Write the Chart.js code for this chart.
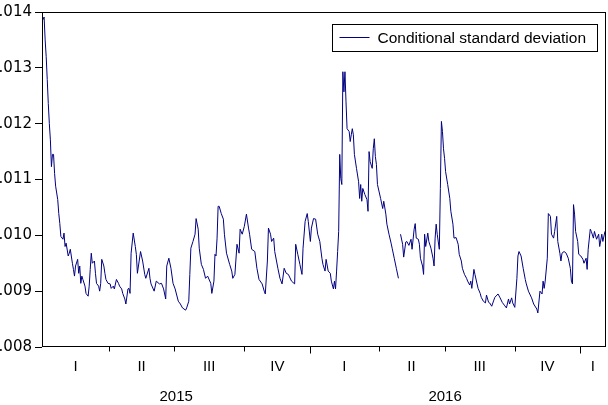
<!DOCTYPE html>
<html>
<head>
<meta charset="utf-8">
<script src="https://cdn.jsdelivr.net/npm/chart.js@4.4.1/dist/chart.umd.min.js"></script>
<style>
    html, body { margin: 0; padding: 0; background: #fff; }
    #wrap { width: 608px; height: 405px; position: relative; }
</style>
</head>
<body>
<div id="wrap"><canvas id="myChart"></canvas></div>
<script>
const obsDay = [
    0, 2, 3, 4, 5, 6, 7, 8, 9, 10, 11, 12, 13, 15, 16, 17, 18, 20, 21, 22,
    23, 25, 26, 27, 29, 30, 31, 32, 34, 35, 36, 37, 38, 39, 41, 42, 44, 45, 46, 47,
    48, 50, 51, 52, 54, 55, 56, 57, 59, 60, 61, 63, 65, 66, 68, 69, 71, 73, 74, 76,
    77, 79, 80, 82, 83, 84, 85, 87, 89, 90, 91, 94, 96, 98, 99, 102, 103, 104, 107, 109,
    112, 114, 116, 118, 119, 121, 123, 125, 127, 130, 132, 134, 137, 138, 140, 141, 142, 144, 146, 147,
    149, 150, 152, 154, 156, 158, 161, 162, 164, 165, 166, 167, 168, 169, 171, 173, 174, 176, 179, 181,
    182, 184, 186, 188, 189, 191, 193, 195, 197, 198, 200, 203, 205, 207, 210, 212, 213, 215, 216, 218,
    219, 221, 222, 225, 227, 229, 231, 233, 235, 238, 241, 242, 244, 246, 248, 249, 251, 253, 254, 256,
    257, 259, 261, 263, 265, 267, 268, 270, 271, 273, 275, 276, 278, 279, 280, 281, 282, 283, 284, 285,
    286, 287, 288, 289, 290, 291, 293, 294, 295, 296, 297, 298, 300, 302, 303, 304, 305, 306, 308, 310,
    311, 312, 313, 315, 316, 317, 318, 319, 320, 323, 325, 326, 328, 329, 331, 333, 334, 336, 338, 340,
    341, 342, 344, 345, 347, 348, 350, 352, 353, 355, 356, 357, 359, 360, 361, 363, 364, 365, 366, 368,
    369, 371, 373, 374, 375, 376, 377, 379, 380, 381, 382, 383, 384, 385, 387, 389, 390, 392, 393, 395,
    397, 398, 400, 401, 403, 405, 406, 408, 409, 410, 412, 413, 415, 416, 418, 419, 421, 423, 424, 426,
    427, 429, 431, 432, 434, 435, 437, 439, 441, 443, 445, 446, 448, 449, 451, 453, 454, 455, 457, 459,
    461, 462, 464, 467, 469, 472, 473, 475, 477, 478, 479, 480, 482, 483, 485, 486, 488, 489, 491, 492,
    494, 495, 496, 498, 500, 502, 504, 505, 506, 507, 508, 509, 511, 512, 514, 516, 517, 519, 520, 521,
    523, 524, 526, 527, 529, 531, 532, 534, 535, 537, 538
];
const condSd = [
    0.01383, 0.01391, 0.01350, 0.01320, 0.01279, 0.01236, 0.01200, 0.01171, 0.01123, 0.01145,
    0.01145, 0.01111, 0.01088, 0.01064, 0.01039, 0.01021, 0.00998, 0.00993, 0.01004, 0.00980,
    0.00986, 0.00963, 0.00968, 0.00975, 0.00950, 0.00939, 0.00927, 0.00945, 0.00957, 0.00932,
    0.00945, 0.00914, 0.00927, 0.00921, 0.00909, 0.00896, 0.00891, 0.00909, 0.00939, 0.00968,
    0.00950, 0.00954, 0.00932, 0.00914, 0.00909, 0.00900, 0.00914, 0.00957, 0.00945, 0.00932,
    0.00921, 0.00914, 0.00913, 0.00905, 0.00909, 0.00904, 0.00921, 0.00914, 0.00909, 0.00904,
    0.00896, 0.00886, 0.00877, 0.00904, 0.00905, 0.00896, 0.00968, 0.01004, 0.00980, 0.00966,
    0.00932, 0.00971, 0.00954, 0.00930, 0.00923, 0.00941, 0.00923, 0.00913, 0.00900, 0.00918,
    0.00913, 0.00914, 0.00904, 0.00886, 0.00945, 0.00959, 0.00941, 0.00914, 0.00904, 0.00882,
    0.00877, 0.00870, 0.00866, 0.00870, 0.00882, 0.00930, 0.00977, 0.00989, 0.01002, 0.01030,
    0.01011, 0.00977, 0.00948, 0.00939, 0.00923, 0.00927, 0.00914, 0.00896, 0.00918, 0.00966,
    0.00963, 0.00995, 0.01052, 0.01052, 0.01039, 0.01029, 0.01002, 0.00968, 0.00948, 0.00936,
    0.00923, 0.00930, 0.00984, 0.00968, 0.01011, 0.01002, 0.01016, 0.01038, 0.01013, 0.01002,
    0.00975, 0.00971, 0.00941, 0.00921, 0.00913, 0.00900, 0.00895, 0.00954, 0.01013, 0.01002,
    0.00989, 0.00995, 0.00971, 0.00941, 0.00923, 0.00913, 0.00941, 0.00932, 0.00930, 0.00918,
    0.00913, 0.00984, 0.00966, 0.00948, 0.00930, 0.00977, 0.01025, 0.01039, 0.01025, 0.00989,
    0.01013, 0.01030, 0.01029, 0.01002, 0.00989, 0.00959, 0.00948, 0.00936, 0.00957, 0.00936,
    0.00932, 0.00918, 0.00904, 0.00918, 0.00904, 0.00936, 0.00971, 0.01007, 0.01145, 0.01102,
    0.01091, 0.01293, 0.01257, 0.01293, 0.01239, 0.01191, 0.01186, 0.01168, 0.01180, 0.01191,
    0.01180, 0.01145, 0.01120, 0.01096, 0.01066, 0.01091, 0.01061, 0.01084, 0.01073, 0.01064,
    0.01043, 0.01150, 0.01132, 0.01120, 0.01155, 0.01173, 0.01141, 0.01127, 0.01091, 0.01066,
    0.01048, 0.01061, 0.01038, 0.01020, 0.01002, 0.00986, 0.00977, 0.00959, 0.00941, 0.00923,
    null,    0.01002, 0.00984, 0.00961, 0.00988, 0.00989, 0.00982, 0.00993, 0.00975, 0.01011,
    0.01021, 0.00995, 0.00993, 0.00984, 0.00959, 0.00945, 0.00930, 0.01002, 0.00980, 0.01004,
    0.00989, 0.00977, 0.00959, 0.00945, 0.00995, 0.01020, 0.01002, 0.00975, 0.01084, 0.01204,
    0.01186, 0.01155, 0.01138, 0.01114, 0.01091, 0.01066, 0.01043, 0.01020, 0.00995, 0.00996,
    0.00984, 0.00966, 0.00954, 0.00941, 0.00930, 0.00923, 0.00918, 0.00911, 0.00918, 0.00905,
    0.00939, 0.00930, 0.00913, 0.00905, 0.00896, 0.00889, 0.00882, 0.00879, 0.00893, 0.00880,
    0.00879, 0.00873, 0.00884, 0.00889, 0.00893, 0.00895, 0.00888, 0.00880, 0.00875, 0.00870,
    0.00886, 0.00877, 0.00888, 0.00879, 0.00871, 0.00923, 0.00963, 0.00971, 0.00963, 0.00941,
    0.00921, 0.00913, 0.00900, 0.00888, 0.00877, 0.00868, 0.00861, 0.00900, 0.00895, 0.00918,
    0.00905, 0.00918, 0.00959, 0.01039, 0.01034, 0.01002, 0.00995, 0.01007, 0.01034, 0.00989,
    0.00968, 0.00954, 0.00968, 0.00971, 0.00968, 0.00959, 0.00941, 0.00918, 0.00913, 0.01055,
    0.01038, 0.01007, 0.00989, 0.00966, 0.00963, 0.00957, 0.00950, 0.00959, 0.00939, 0.00975,
    0.01011, 0.01007, 0.00995, 0.01007, 0.00993, 0.01002, 0.00980, 0.01002, 0.00989, 0.01007,
    0.01007
];

// quarter boundaries (trading-day index) and their labels
const quarterStarts = [0, 64, 126, 193, 256, 321, 384, 451, 513];
const quarterLabels = ['I', 'II', 'III', 'IV', 'I', 'II', 'III', 'IV', 'I'];
const yearStarts = [0, 256, 513];
const yearLabels = ['2015', '2016'];
const lastDay = 538;

const yTickValues = [0.008, 0.009, 0.010, 0.011, 0.012, 0.013, 0.014];
const yTickLabels = ['.008', '.009', '.010', '.011', '.012', '.013', '.014'];

const lineColor = '#000080';

// frame, bottom time axis and boxed legend in the EViews look
const evPlugin = {
    id: 'evPlugin',
    afterDraw(chart) {
        const ctx = chart.ctx;
        const a = chart.chartArea;
        const x = chart.scales.x;
        const left = Math.round(a.left) + 0.5;
        const top = Math.round(a.top) + 0.5;
        const right = Math.round(a.right) - 0.5;
        const bottom = Math.round(a.bottom) - 0.5;
        ctx.save();
        ctx.strokeStyle = '#000';
        ctx.lineWidth = 1;
        ctx.strokeRect(left, top, right - left, bottom - top);

        // quarter ticks, longer at year boundaries
        ctx.beginPath();
        quarterStarts.forEach(function (d) {
            if (d === 0) return;
            const px = Math.round(x.getPixelForValue(d)) + 0.5;
            const len = yearStarts.indexOf(d) >= 0 ? 7 : 5;
            ctx.moveTo(px, bottom);
            ctx.lineTo(px, bottom + len);
        });
        ctx.stroke();

        ctx.fillStyle = '#000';
        ctx.textAlign = 'center';
        ctx.textBaseline = 'middle';
        ctx.font = '15px "Liberation Sans", Arial, sans-serif';
        quarterLabels.forEach(function (lab, i) {
            const s = quarterStarts[i];
            const e = Math.min(i + 1 < quarterStarts.length ? quarterStarts[i + 1] : lastDay, lastDay);
            ctx.fillText(lab, x.getPixelForValue((s + e) / 2), bottom + 20);
        });
        yearLabels.forEach(function (lab, i) {
            const mid = (yearStarts[i] + yearStarts[i + 1]) / 2;
            ctx.fillText(lab, x.getPixelForValue(mid), bottom + 50);
        });

        // legend box
        const lx = 332.5, ly = 24.5, lw = 265, lh = 27;
        ctx.strokeRect(lx, ly, lw, lh);
        ctx.strokeStyle = lineColor;
        ctx.beginPath();
        ctx.moveTo(lx + 7, ly + 13);
        ctx.lineTo(lx + 37, ly + 13);
        ctx.stroke();
        ctx.textAlign = 'left';
        ctx.font = '15.5px "Liberation Sans", Arial, sans-serif';
        ctx.fillText(chart.data.datasets[0].label, lx + 45, ly + 14);
        ctx.restore();
    }
};

const ctx = document.getElementById('myChart');

new Chart(ctx, {
    type: 'line',
    data: {
        datasets: [{
            label: 'Conditional standard deviation',
            data: obsDay.map(function (d, i) { return { x: d, y: condSd[i] }; }),
            borderColor: lineColor,
            borderWidth: 1,
            pointRadius: 0,
            tension: 0,
            spanGaps: false,
            fill: false
        }]
    },
    options: {
        responsive: true,
        maintainAspectRatio: false,
        animation: false,
        layout: { padding: { top: 10, right: 2, bottom: 58, left: 0 } },
        plugins: {
            legend: { display: false },
            tooltip: { enabled: false }
        },
        scales: {
            x: {
                type: 'linear',
                min: 0,
                max: lastDay,
                display: false
            },
            y: {
                min: 0.008,
                max: 0.014,
                afterBuildTicks: function (scale) {
                    scale.ticks = yTickValues.map(function (v) { return { value: v }; });
                },
                afterFit: function (scale) { scale.width = 42; },
                border: { display: false },
                grid: {
                    drawOnChartArea: false,
                    drawTicks: true,
                    tickLength: 7,
                    color: '#000'
                },
                ticks: {
                    color: '#000',
                    padding: 3,
                    font: { family: '"DejaVu Sans", sans-serif', size: 15 },
                    callback: function (value) {
                        const i = yTickValues.findIndex(function (v) { return Math.abs(v - value) < 1e-7; });
                        return i >= 0 ? yTickLabels[i] : '';
                    }
                }
            }
        }
    },
    plugins: [evPlugin]
});
</script>
</body>
</html>
